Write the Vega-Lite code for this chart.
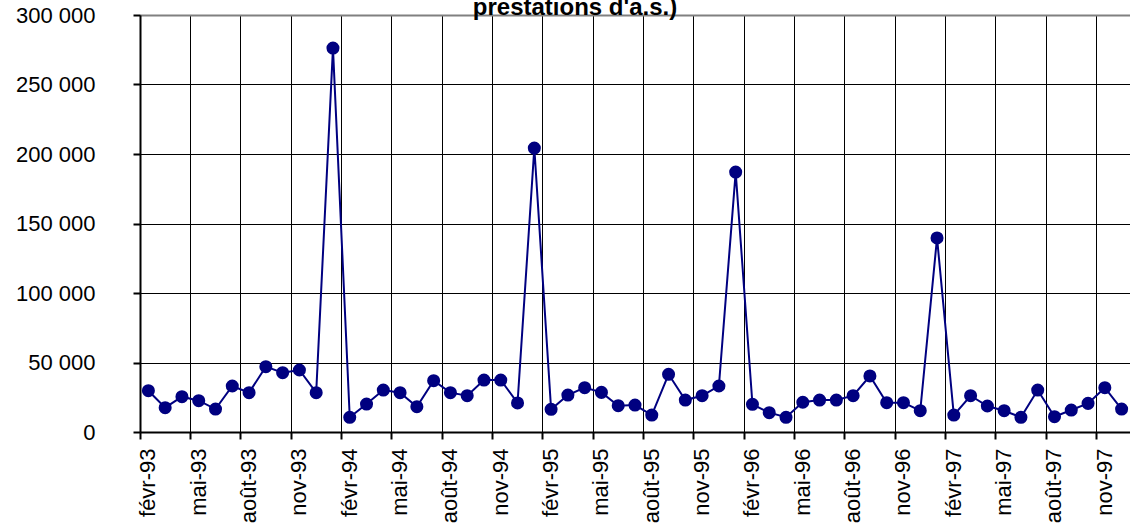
{
  "$schema": "https://vega.github.io/schema/vega-lite/v6.json",
  "width": 990,
  "height": 417,
  "autosize": {"type": "none"},
  "padding": {"left": 140, "top": 15, "right": 0, "bottom": 97},
  "background": "white",
  "config": {
    "font": "Liberation Sans",
    "view": {"stroke": null}
  },
  "title": {
    "text": "prestations d'a.s.)",
    "font": "Liberation Sans",
    "fontSize": 24,
    "fontWeight": "bold",
    "color": "black",
    "baseline": "alphabetic",
    "offset": -35,
    "dx": -60
  },
  "data": {
    "values": [
      {"mois": "févr-93", "n": 29700},
      {"mois": "mars-93", "n": 17500},
      {"mois": "avr-93", "n": 25400},
      {"mois": "mai-93", "n": 22500},
      {"mois": "juin-93", "n": 16500},
      {"mois": "juil-93", "n": 33100},
      {"mois": "août-93", "n": 28300},
      {"mois": "sept-93", "n": 47000},
      {"mois": "oct-93", "n": 42700},
      {"mois": "nov-93", "n": 44600},
      {"mois": "déc-93", "n": 28300},
      {"mois": "janv-94", "n": 276200},
      {"mois": "févr-94", "n": 10600},
      {"mois": "mars-94", "n": 20100},
      {"mois": "avr-94", "n": 30200},
      {"mois": "mai-94", "n": 28300},
      {"mois": "juin-94", "n": 18200},
      {"mois": "juil-94", "n": 36900},
      {"mois": "août-94", "n": 28300},
      {"mois": "sept-94", "n": 26100},
      {"mois": "oct-94", "n": 37400},
      {"mois": "nov-94", "n": 37400},
      {"mois": "déc-94", "n": 20900},
      {"mois": "janv-95", "n": 204300},
      {"mois": "févr-95", "n": 16300},
      {"mois": "mars-95", "n": 26600},
      {"mois": "avr-95", "n": 31900},
      {"mois": "mai-95", "n": 28500},
      {"mois": "juin-95", "n": 18900},
      {"mois": "juil-95", "n": 19400},
      {"mois": "août-95", "n": 12200},
      {"mois": "sept-95", "n": 41500},
      {"mois": "oct-95", "n": 23000},
      {"mois": "nov-95", "n": 26100},
      {"mois": "déc-95", "n": 33100},
      {"mois": "janv-96", "n": 187000},
      {"mois": "févr-96", "n": 19900},
      {"mois": "mars-96", "n": 13900},
      {"mois": "avr-96", "n": 10600},
      {"mois": "mai-96", "n": 21400},
      {"mois": "juin-96", "n": 23000},
      {"mois": "juil-96", "n": 23000},
      {"mois": "août-96", "n": 26100},
      {"mois": "sept-96", "n": 40300},
      {"mois": "oct-96", "n": 21100},
      {"mois": "nov-96", "n": 21100},
      {"mois": "déc-96", "n": 15300},
      {"mois": "janv-97", "n": 139600},
      {"mois": "févr-97", "n": 12200},
      {"mois": "mars-97", "n": 26100},
      {"mois": "avr-97", "n": 18700},
      {"mois": "mai-97", "n": 15300},
      {"mois": "juin-97", "n": 10600},
      {"mois": "juil-97", "n": 30200},
      {"mois": "août-97", "n": 11000},
      {"mois": "sept-97", "n": 15800},
      {"mois": "oct-97", "n": 20600},
      {"mois": "nov-97", "n": 31900},
      {"mois": "déc-97", "n": 16500}
    ]
  },
  "mark": {
    "type": "line",
    "color": "#000080",
    "strokeWidth": 2,
    "point": {"filled": true, "color": "#000080", "size": 170, "opacity": 1}
  },
  "encoding": {
    "x": {
      "field": "mois",
      "type": "ordinal",
      "sort": null,
      "scale": {"type": "band", "paddingInner": 0, "paddingOuter": 0},
      "axis": {
        "title": null,
        "bandPosition": 0,
        "values": ["févr-93", "mai-93", "août-93", "nov-93", "févr-94", "mai-94", "août-94", "nov-94", "févr-95", "mai-95", "août-95", "nov-95", "févr-96", "mai-96", "août-96", "nov-96", "févr-97", "mai-97", "août-97", "nov-97"],
        "labelAngle": -90,
        "labelFontSize": 22,
        "labelColor": "black",
        "labelPadding": 9,
        "labelDy": 6,
        "tickSize": 7,
        "tickColor": "black",
        "tickWidth": 2,
        "domainColor": "black",
        "domainWidth": 2,
        "grid": true,
        "gridColor": "black",
        "gridWidth": 1,
        "gridOpacity": 1
      }
    },
    "y": {
      "field": "n",
      "type": "quantitative",
      "scale": {"domain": [0, 300000], "nice": false},
      "axis": {
        "title": null,
        "values": [0, 50000, 100000, 150000, 200000, 250000, 300000],
        "labelExpr": "replace(format(datum.value, ','), ',', ' ')",
        "labelFontSize": 22,
        "labelColor": "black",
        "labelPadding": 38,
        "tickSize": 7,
        "tickColor": "black",
        "tickWidth": 2,
        "domainColor": "black",
        "domainWidth": 2,
        "grid": true,
        "gridColor": {"condition": {"test": "datum.value === 300000", "value": "#808080"}, "value": "black"},
        "gridWidth": {"condition": {"test": "datum.value === 300000", "value": 2}, "value": 1},
        "gridOpacity": 1
      }
    }
  }
}
